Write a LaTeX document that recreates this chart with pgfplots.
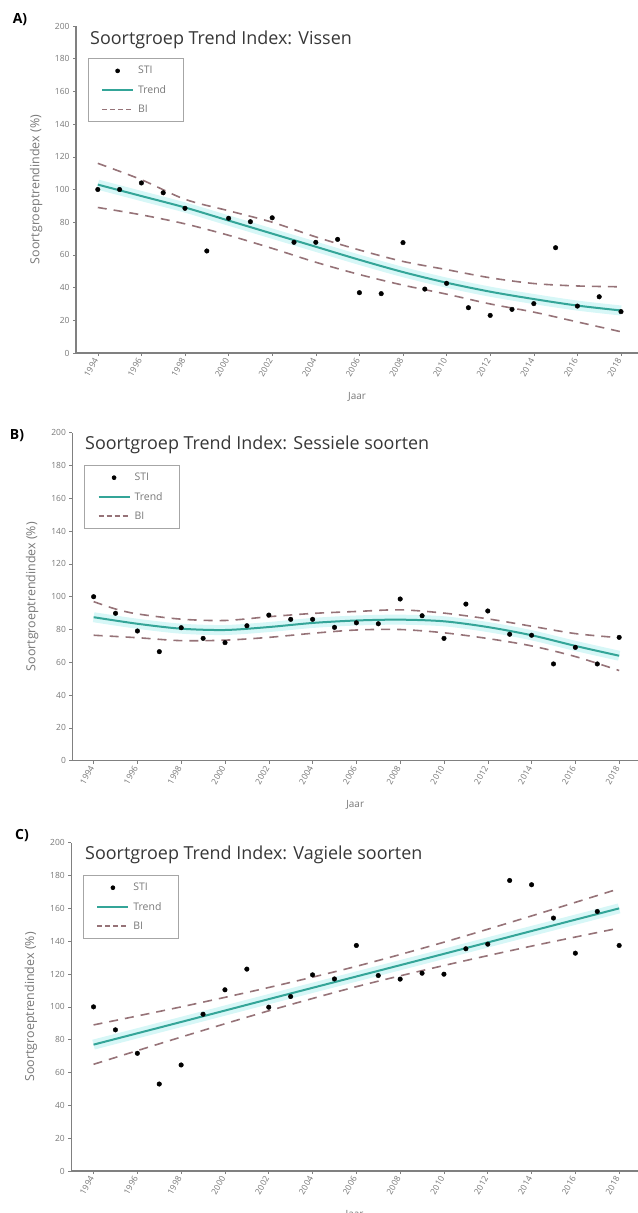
\documentclass[border=0pt]{standalone}
\usepackage{fontspec}
\setmainfont{Open Sans}
\usepackage{pgfplots}
\pgfplotsset{compat=1.18}
\definecolor{trendc}{RGB}{52,165,152}
\definecolor{bic}{RGB}{150,115,120}
\definecolor{bandc}{RGB}{215,247,247}
\definecolor{axc}{RGB}{128,128,128}
\definecolor{tickc}{RGB}{120,120,120}
\definecolor{titc}{RGB}{55,55,55}

\pgfplotsset{
  lineimg/.style={legend image code/.code={\draw[##1] (0bp,0bp) -- (31bp,0bp);}},
  dotimg/.style={legend image code/.code={\draw[##1] plot coordinates {(15.5bp,0bp)};}},
  stistyle/.style={
  scale only axis,
  ymin=0, ymax=200,
  axis x line*=bottom, axis y line*=left,
  axis line style={axc, line width=1.2bp, -},
  xtick={1994,1996,...,2018}, ytick={0,20,...,200},
  tick style={axc, line width=0.6bp}, tick align=outside, major tick length=3bp,
  /pgf/number format/1000 sep={}, /pgf/number format/assume math mode=true,
  xticklabel style={font=\fontsize{8.5}{10}\selectfont, text=tickc, rotate=60, anchor=east},
  yticklabel style={font=\fontsize{8.5}{10}\selectfont, text=tickc},
  xlabel={Jaar}, ylabel={Soortgroeptrendindex (\%)},
  xlabel style={font=\fontsize{10}{12}\selectfont, text=tickc, at={(axis description cs:0.5,0)}, anchor=center, yshift=-44bp},
  ylabel style={font=\fontsize{12.5}{14}\selectfont, text=tickc, at={(axis description cs:-0.071,0.5)}, anchor=center},
  legend style={at={(rel axis cs:0.021,0.902)}, anchor=north west, draw=axc!70, line width=0.6bp,
    font=\fontsize{10.5}{12}\selectfont, text=tickc, row sep=6bp, inner xsep=13bp, inner ysep=6bp,
    nodes={inner xsep=4bp}},
  legend cell align=left,
  lineimg,
  clip=false,
  },
  bandst/.style={bandc, line width=10bp, smooth, forget plot},
  bist/.style={bic, line width=1.6bp, dash pattern=on 9bp off 7bp, smooth, forget plot},
  trst/.style={trendc, line width=2bp, smooth, forget plot},
  ptst/.style={only marks, mark=*, mark size=2.3bp, black, forget plot},
}

\newcommand{\stilegend}{%
  \addlegendimage{only marks, mark=*, mark size=2bp, black, dotimg}
  \addlegendentry{STI}
  \addlegendimage{trendc, line width=2bp, lineimg}
  \addlegendentry{Trend}
  \addlegendimage{bic, line width=1.5bp, dash pattern=on 5bp off 3bp, lineimg}
  \addlegendentry{BI}
}

\begin{document}
\begin{tikzpicture}
\useasboundingbox (0bp,0bp) rectangle (638bp,-1213bp);

% ---------------- A: Vissen ----------------
\begin{axis}[stistyle, at={(76bp,-353bp)}, anchor=south west,
  width=562bp, height=327bp, xmin=1993.0, xmax=2018.78]
\stilegend
\addplot[bandst] coordinates {(1994,103) (1996,96) (1998,89) (2000,81) (2002,73) (2004,65) (2006,57) (2008,49.5) (2010,43) (2012,37.5) (2014,33) (2016,29) (2018,26)};
\addplot[bist] coordinates {(1994,116) (1996,106) (1998,94) (2000,87) (2002,80) (2004,71) (2006,63) (2008,56) (2010,51) (2012,46) (2014,42.5) (2016,41) (2018,40.5)};
\addplot[bist] coordinates {(1994,89) (1996,84.5) (1998,79) (2000,72) (2002,64) (2004,55.5) (2006,48) (2008,41.5) (2010,36) (2012,30) (2014,25) (2016,19) (2018,13)};
\addplot[trst] coordinates {(1994,103) (1996,96) (1998,89) (2000,81) (2002,73) (2004,65) (2006,57) (2008,49.5) (2010,43) (2012,37.5) (2014,33) (2016,29) (2018,26)};
\addplot[ptst] coordinates {(1994,100) (1995,100) (1996,104) (1997,98) (1998,88.5) (1999,62.4) (2000,82.4) (2001,80.3) (2002,82.7) (2003,67.7) (2004,67.7) (2005,69.5) (2006,36.9) (2007,36.3) (2008,67.5) (2009,39.1) (2010,42.6) (2011,27.7) (2012,23) (2013,26.7) (2014,30.2) (2015,64.4) (2016,28.7) (2017,34.4) (2018,25.3)};
\end{axis}

% ---------------- B: Sessiele soorten ----------------
\begin{axis}[stistyle, at={(72.4bp,-760.7bp)}, anchor=south west,
  width=565.6bp, height=328bp, xmin=1993.03, xmax=2018.86]
\stilegend
\addplot[bandst] coordinates {(1994,87.5) (1996,83.5) (1998,80.5) (2000,79.7) (2002,81.5) (2004,84) (2006,85.5) (2008,86) (2010,85) (2012,81.5) (2014,76.5) (2016,70) (2018,64)};
\addplot[bist] coordinates {(1994,97) (1995,92.5) (1996,89.5) (1998,86.3) (2000,85.5) (2002,87.8) (2004,89.8) (2006,91) (2008,92) (2010,90) (2012,86.5) (2014,82) (2016,77.5) (2018,75)};
\addplot[bist] coordinates {(1994,76.5) (1996,75) (1998,73.2) (2000,73.5) (2002,75.2) (2004,77.7) (2006,79.7) (2008,80) (2010,78) (2012,74.5) (2014,70) (2016,63.5) (2018,55)};
\addplot[trst] coordinates {(1994,87.5) (1996,83.5) (1998,80.5) (2000,79.7) (2002,81.5) (2004,84) (2006,85.5) (2008,86) (2010,85) (2012,81.5) (2014,76.5) (2016,70) (2018,64)};
\addplot[ptst] coordinates {(1994,100) (1995,89.9) (1996,79.1) (1997,66.5) (1998,81.1) (1999,74.6) (2000,72) (2001,82.3) (2002,88.8) (2003,86.2) (2004,86.2) (2005,81.3) (2006,84.1) (2007,83.5) (2008,98.6) (2009,88.4) (2010,74.6) (2011,95.5) (2012,91.3) (2013,77.1) (2014,76.5) (2015,59) (2016,69.1) (2017,59) (2018,75.2)};
\end{axis}

% ---------------- C: Vagiele soorten ----------------
\begin{axis}[stistyle, at={(71.2bp,-1171bp)}, anchor=south west,
  width=566.8bp, height=328.3bp, xmin=1992.98, xmax=2018.86]
\stilegend
\addplot[bandst] coordinates {(1994,77) (1998,90.8) (2002,104.7) (2006,118.5) (2010,132.3) (2014,146.2) (2018,160)};
\addplot[bist] coordinates {(1994,89) (1998,100) (2002,111.8) (2006,124.7) (2010,139.4) (2014,155.4) (2018,172)};
\addplot[bist] coordinates {(1994,65) (1998,81.6) (2002,97.6) (2006,112.3) (2010,125.2) (2014,137) (2018,148)};
\addplot[trst] coordinates {(1994,77) (1998,90.8) (2002,104.7) (2006,118.5) (2010,132.3) (2014,146.2) (2018,160)};
\addplot[ptst] coordinates {(1994,100) (1995,86) (1996,71.7) (1997,53) (1998,64.6) (1999,95.5) (2000,110.4) (2001,123) (2002,99.8) (2003,106.3) (2004,119.5) (2005,117) (2006,137.4) (2007,119.1) (2008,116.9) (2009,120.5) (2010,119.9) (2011,135.4) (2012,138.2) (2013,177) (2014,174.4) (2015,154.1) (2016,132.7) (2017,158.1) (2018,137.4)};
\end{axis}

% panel labels and titles
\node[font=\bfseries\fontsize{14}{16}\selectfont, anchor=center] at (20bp,-20bp) {A)};
\node[font=\bfseries\fontsize{14}{16}\selectfont, anchor=center] at (17bp,-436bp) {B)};
\node[font=\bfseries\fontsize{14}{16}\selectfont, anchor=center] at (22bp,-836bp) {C)};
\node[font=\fontsize{18}{21}\selectfont, text=titc, anchor=west, inner sep=0pt] at (90bp,-40bp) {Soortgroep Trend Index: Vissen};
\node[font=\fontsize{18}{21}\selectfont, text=titc, anchor=west, inner sep=0pt] at (85bp,-445bp) {Soortgroep Trend Index: Sessiele soorten};
\node[font=\fontsize{18}{21}\selectfont, text=titc, anchor=west, inner sep=0pt] at (85bp,-855bp) {Soortgroep Trend Index: Vagiele soorten};
\end{tikzpicture}
\end{document}
